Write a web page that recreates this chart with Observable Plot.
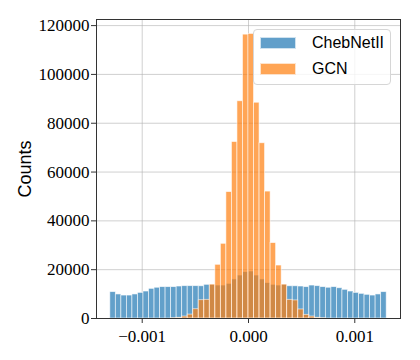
<!DOCTYPE html>
<html>
<head>
<meta charset="utf-8">
<script src="https://cdn.jsdelivr.net/npm/d3@7"></script>
<script src="https://cdn.jsdelivr.net/npm/@observablehq/plot@0.6"></script>
<style>
  html, body { margin: 0; padding: 0; background: #fff; }
  #wrap { position: relative; width: 420px; height: 360px; }
  #wrap svg g[aria-label="y-axis label"] text { font-family: "Liberation Sans", sans-serif; font-size: 18px; }
  .legend { position: absolute; left: 253px; top: 29px; width: 136px; height: 54px;
    border: 1px solid #d6d6d6; border-radius: 4px; background: rgba(255,255,255,0.8);
    font-family: "Liberation Sans", sans-serif; font-size: 16px; color: #000; }
  .legend .item { position: absolute; left: 0; height: 14px; }
  .legend .sw { position: absolute; left: 6px; width: 36px; height: 12px; border: 0.8px solid rgba(255,255,255,0.7); box-sizing: border-box; }
  .legend .lb { position: absolute; left: 58px; top: -4px; white-space: nowrap; line-height: 20px; }
</style>
</head>
<body>
<div id="wrap"></div>
<script>
// ---- data ----
const seriesNames = ["ChebNetII", "GCN"];
const seriesColors = ["#1f77b4", "#ff7f0e"];
const binStart = -0.0013;   // left edge of first bin
const binWidth = 0.000052;  // 50 bins up to 0.0013
const chebCounts = [
  10800, 9850, 9400, 9400, 9850, 10500, 11050, 12150, 12600, 12850,
  12850, 12850, 13100, 13250, 13250, 13250, 13200, 13800, 13800, 13500,
  13500, 14200, 16000, 17600, 19000, 19250, 17600, 16000, 14500, 13800,
  13500, 13800, 13200, 13200, 13100, 12850, 13500, 13250, 12850, 12600,
  12850, 12400, 11750, 11050, 10500, 10100, 9700, 9400, 9850, 10800
];
const gcnCounts = [
  0, 0, 0, 0, 0, 0, 0, 0, 0, 0,
  0, 100, 300, 800, 1600, 3800, 7500, 7650, 13900, 22000,
  30600, 51800, 72300, 89000, 116300, 116600, 88400, 71800, 52000, 30900,
  21700, 13900, 7650, 7400, 3700, 1500, 800, 300, 100, 0,
  0, 0, 0, 0, 0, 0, 0, 0, 0, 0
];
const yTicks = [0, 20000, 40000, 60000, 80000, 100000, 120000];
const xTicks = [-0.001, 0.000, 0.001];
const xDomain = [-0.00143, 0.00143];
const yDomain = [0, 122500];

function rows(counts, name) {
  return counts.map((c, i) => ({
    x1: binStart + i * binWidth,
    x2: binStart + (i + 1) * binWidth,
    count: c,
    series: name
  })).filter(d => d.count > 0);
}
const chebRows = rows(chebCounts, seriesNames[0]);
const gcnRows = rows(gcnCounts, seriesNames[1]);

const chart = Plot.plot({
  width: 420,
  height: 360,
  marginLeft: 96,
  marginRight: 20,
  marginTop: 19,
  marginBottom: 42,
  style: { fontFamily: "Liberation Serif, serif", fontSize: "17px", color: "#000", background: "#fff" },
  x: { domain: xDomain },
  y: { domain: yDomain },
  marks: [
    Plot.gridY(yTicks, { stroke: "#b0b0b0", strokeOpacity: 0.75, strokeWidth: 0.8 }),
    Plot.gridX(xTicks, { stroke: "#b0b0b0", strokeOpacity: 0.75, strokeWidth: 0.8 }),
    Plot.rect(chebRows, { x1: "x1", x2: "x2", y1: 0, y2: "count", fill: seriesColors[0], fillOpacity: 0.7, stroke: "white", strokeOpacity: 0.7, strokeWidth: 0.8 }),
    Plot.rect(gcnRows, { x1: "x1", x2: "x2", y1: 0, y2: "count", fill: seriesColors[1], fillOpacity: 0.7, stroke: "white", strokeOpacity: 0.7, strokeWidth: 0.8 }),
    Plot.axisY(yTicks, { tickSize: 5, tickPadding: 2, tickFormat: d3.format("d"), stroke: "#333",
      label: "Counts", labelAnchor: "center", labelOffset: 78, labelArrow: "none" }),
    Plot.axisX(xTicks, { tickSize: 5, tickPadding: 6, tickFormat: d3.format(".3f"), stroke: "#333", label: null }),
    Plot.frame({ stroke: "#333", strokeWidth: 1 })
  ]
});

const wrap = document.getElementById("wrap");
wrap.appendChild(chart);

// legend
const legend = document.createElement("div");
legend.className = "legend";
seriesNames.forEach((name, i) => {
  const item = document.createElement("div");
  item.className = "item";
  item.style.top = (7 + i * 26) + "px";
  const sw = document.createElement("div");
  sw.className = "sw";
  sw.style.background = seriesColors[i];
  sw.style.opacity = 0.7;
  const lb = document.createElement("div");
  lb.className = "lb";
  lb.textContent = name;
  item.appendChild(sw);
  item.appendChild(lb);
  legend.appendChild(item);
});
wrap.appendChild(legend);
</script>
</body>
</html>
